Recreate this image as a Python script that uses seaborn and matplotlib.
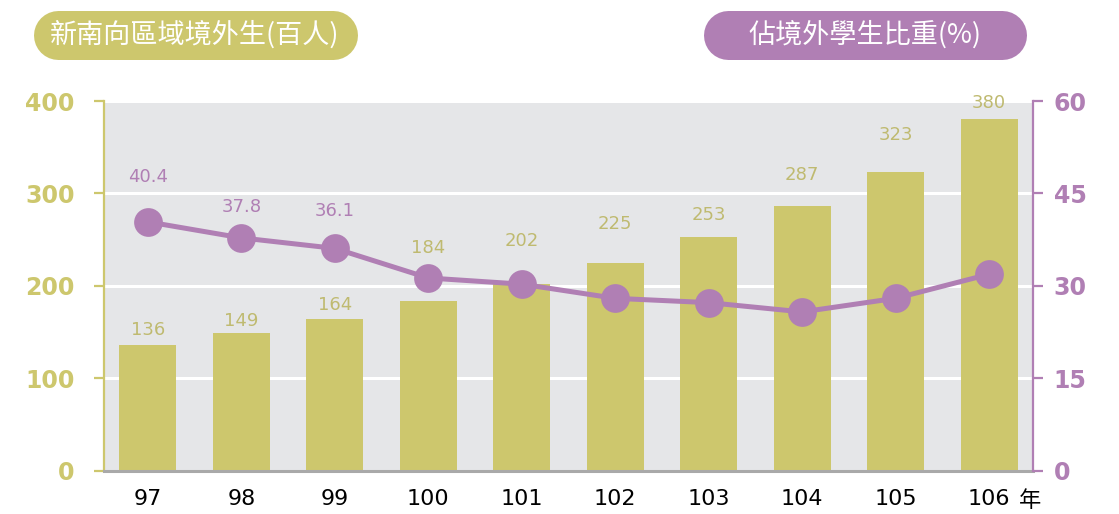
import numpy as np
import seaborn as sns
import matplotlib.pyplot as plt
from matplotlib.lines import Line2D
from matplotlib.transforms import IdentityTransform

years = ['97', '98', '99', '100', '101', '102', '103', '104', '105', '106']
students = [136, 149, 164, 184, 202, 225, 253, 287, 323, 380]
share = [40.4, 37.8, 36.1, 31.3, 30.3, 28.0, 27.3, 25.8, 28.0, 31.9]
share_labels = ['40.4', '37.8', '36.1', '', '', '', '', '', '', '']
left_ticks = [0, 100, 200, 300, 400]
right_ticks = [0, 15, 30, 45, 60]

# label offsets above marks (points), hand placed like the original
bar_off = [11, 9, 10, 38, 31, 28, 16, 22, 27, 12]
pct_off = [32, 22, 27, 0, 0, 0, 0, 0, 0, 0]

olive = '#cdc76d'
olive_txt = '#bfba70'
purple = '#b07fb4'

sns.set_style('white')
plt.rcParams['font.family'] = ['DejaVu Sans', 'Noto Sans CJK TC']

fig = plt.figure(figsize=(11.19, 5.14), dpi=100)
ax = fig.add_axes([0.0929, 0.0837, 0.8302, 0.7198])
ax.set_facecolor('#e5e6e8')

sns.barplot(x=years, y=students, color=olive, width=0.61, saturation=1, linewidth=0,
            ax=ax, zorder=2)
ax.set_ylim(0, 400)
ax.set_yticks(left_ticks)
ax.yaxis.grid(True, color='white', linewidth=2.2)
ax.set_axisbelow(True)

for i, v in enumerate(students):
    ax.annotate(str(v), (i, v), xytext=(0, bar_off[i]), textcoords='offset points',
                ha='center', va='center', fontsize=13, color=olive_txt)

ax2 = ax.twinx()
sns.pointplot(x=years, y=share, color=purple, markers='o', markersize=18,
              linewidth=3.6, ax=ax2)
ax2.set_ylim(0, 60)
ax2.set_yticks(right_ticks)
ax2.grid(False)
for i, v in enumerate(share):
    if share_labels[i]:
        ax2.annotate(share_labels[i], (i, v), xytext=(0, pct_off[i]), textcoords='offset points',
                     ha='center', va='center', fontsize=13, color=purple)

ax.set_xlim(-0.47, 9.47)
ax2.set_xlim(-0.47, 9.47)

for a in (ax, ax2):
    a.set_xlabel('')
    a.set_ylabel('')
    a.spines['top'].set_visible(False)

ax.spines['right'].set_visible(False)
ax.spines['left'].set_color(olive)
ax.spines['left'].set_linewidth(1.6)
ax.spines['bottom'].set_color('#a9a9a9')
ax.spines['bottom'].set_linewidth(2.2)
ax2.spines['left'].set_visible(False)
ax2.spines['bottom'].set_visible(False)
ax2.spines['right'].set_color(purple)
ax2.spines['right'].set_linewidth(1.6)

ax.tick_params(axis='y', direction='out', length=7, width=1.6, color=olive,
               labelcolor=olive, labelsize=17, pad=14, left=True)
ax2.tick_params(axis='y', direction='out', length=7, width=1.6, color=purple,
                labelcolor=purple, labelsize=17, pad=8, right=True)
for t in ax.get_yticklabels() + ax2.get_yticklabels():
    t.set_fontweight('bold')
ax.tick_params(axis='x', length=0, labelsize=16, labelcolor='black', pad=13)
ax2.tick_params(axis='x', length=0, labelbottom=False)

ax.annotate('年', (9.44, 0), xycoords=('data', 'axes fraction'), xytext=(0, -21),
            textcoords='offset points', ha='center', va='center', fontsize=16,
            family=['Noto Sans CJK TC'], color='black', annotation_clip=False)

# header pills: a thick line with round caps gives true semicircle ends
pills = [(33, 324, '新南向區域境外生(百人)', olive), (703, 323, '佔境外學生比重(%)', purple)]
yc = 479.5
for x0, w, txt, c in pills:
    fig.add_artist(Line2D([x0 + 24.5, x0 + w - 24.5], [yc, yc], transform=IdentityTransform(),
                          color=c, linewidth=49 * 0.72, solid_capstyle='round'))
    fig.text((x0 + w / 2) / 1119, yc / 514, txt, ha='center', va='center',
             fontsize=19.5, color='white', fontweight='light', family=['Noto Sans CJK TC'])

fig.savefig('out.png', dpi=100)
